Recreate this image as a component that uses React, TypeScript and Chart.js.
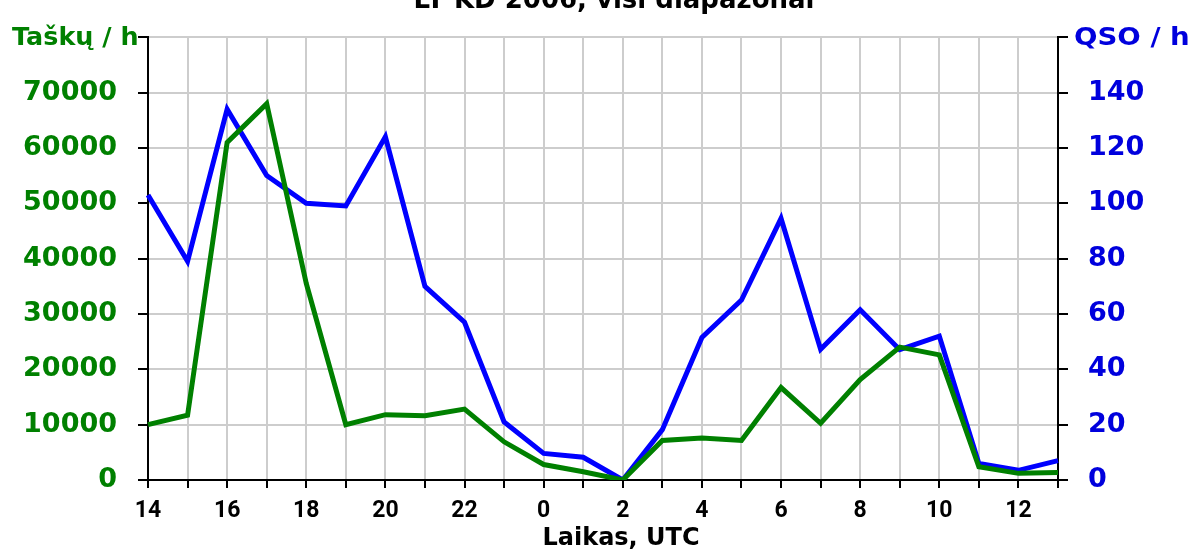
import React, { useEffect, useRef } from 'react';
import { Chart, registerables } from 'chart.js';

Chart.register(...registerables);

const hours = ['14', '15', '16', '17', '18', '19', '20', '21', '22', '23', '0', '1', '2', '3', '4', '5', '6', '7', '8', '9', '10', '11', '12', '13'];
const pointsPerHour = [10000, 11700, 61000, 68000, 35500, 10000, 11800, 11600, 12800, 6900, 2800, 1500, 0, 7150, 7600, 7150, 16700, 10250, 18150, 24000, 22600, 2400, 1200, 1350];
const qsoPerHour = [103, 79, 134, 110, 100, 99, 124, 70, 57, 21, 9.6, 8.2, 0, 18.2, 51.5, 65, 94.5, 47.2, 61.5, 47.1, 52, 6, 3.5, 7];

const titleText = 'LY KD 2006, visi diapazonai';
const leftTitle = 'Taškų / h';
const rightTitle = 'QSO / h';
const xTitle = 'Laikas, UTC';

const GREEN = '#008000';
const BLUE = '#0000ff';
const GRID = 'rgb(205,205,205)';

function stretchedText(ctx: any, text: string, x: number, y: number, sx: number) {
  ctx.save();
  ctx.translate(x, y);
  ctx.scale(sx, 1);
  ctx.fillText(text, 0, 0);
  ctx.restore();
}

const textPlugin = {
  id: 'texts',
  afterDraw(chart: any) {
    const ctx = chart.ctx;
    ctx.save();
    ctx.textBaseline = 'alphabetic';
    ctx.font = 'bold 24px "DejaVu Sans"';
    ctx.textAlign = 'left';
    ctx.fillStyle = GREEN;
    stretchedText(ctx, leftTitle, 12, 45, 1.06);
    ctx.fillStyle = '#0000dd';
    stretchedText(ctx, rightTitle, 1074, 45, 1.15);
    ctx.fillStyle = '#000';
    ctx.textAlign = 'center';
    ctx.fillText(xTitle, 621, 545);
    ctx.font = 'bold 26px "DejaVu Sans"';
    ctx.fillText(titleText, 614, 8);
    ctx.restore();
  },
};

export default function App() {
  const ref = useRef<HTMLCanvasElement>(null);
  useEffect(() => {
    document.body.style.margin = '0';
    const canvas = ref.current!;
    const chart = new Chart(canvas, {
      type: 'line',
      data: {
        labels: hours,
        datasets: [
          {
            label: leftTitle,
            data: pointsPerHour,
            borderColor: GREEN,
            backgroundColor: GREEN,
            borderWidth: 5,
            pointRadius: 0,
            tension: 0,
            yAxisID: 'y',
          },
          {
            label: rightTitle,
            data: qsoPerHour,
            borderColor: BLUE,
            backgroundColor: BLUE,
            borderWidth: 5,
            pointRadius: 0,
            tension: 0,
            yAxisID: 'y2',
          },
        ],
      },
      options: {
        animation: false,
        responsive: false,
        maintainAspectRatio: false,
        layout: { padding: { top: 25, left: 0, right: 0, bottom: 0 } },
        plugins: { legend: { display: false }, tooltip: { enabled: false }, title: { display: false } },
        scales: {
          x: {
            type: 'category',
            offset: false,
            afterFit: (s: any) => { s.height = 70; },
            grid: { color: GRID, lineWidth: 2, tickColor: '#000', tickLength: 8, offset: false },
            border: { color: '#000', width: 2 },
            ticks: {
              autoSkip: false,
              maxRotation: 0,
              padding: 9,
              color: '#000',
              font: { family: 'Roboto', weight: 'bold', size: 23 },
              callback: (_v: any, i: number) => (i % 2 === 0 ? hours[i] : ''),
            },
          },
          y: {
            position: 'left',
            min: 0,
            max: 80000,
            afterFit: (s: any) => { s.width = 148; },
            grid: { color: GRID, lineWidth: 2, tickColor: '#000', tickLength: 10 },
            border: { color: '#000', width: 2 },
            ticks: {
              stepSize: 10000,
              padding: 21,
              color: GREEN,
              font: { family: '"DejaVu Sans"', weight: 'bold', size: 27 },
              callback: (v: any) => (v >= 80000 ? '' : String(v)),
            },
          },
          y2: {
            position: 'right',
            min: 0,
            max: 160,
            afterFit: (s: any) => { s.width = 137; },
            grid: { drawOnChartArea: false, color: GRID, tickColor: '#000', tickLength: 10, lineWidth: 2 },
            border: { color: '#000', width: 2 },
            ticks: {
              stepSize: 20,
              padding: 20,
              color: '#0000dd',
              font: { family: '"DejaVu Sans"', weight: 'bold', size: 27 },
              callback: (v: any) => (v >= 160 ? '' : String(v)),
            },
          },
        },
      },
      plugins: [textPlugin],
    } as any);
    return () => chart.destroy();
  }, []);
  return (
    <div style={{ width: 1195, height: 550 }}>
      <canvas ref={ref} width={1195} height={550} style={{ display: 'block', width: 1195, height: 550 }} />
    </div>
  );
}
